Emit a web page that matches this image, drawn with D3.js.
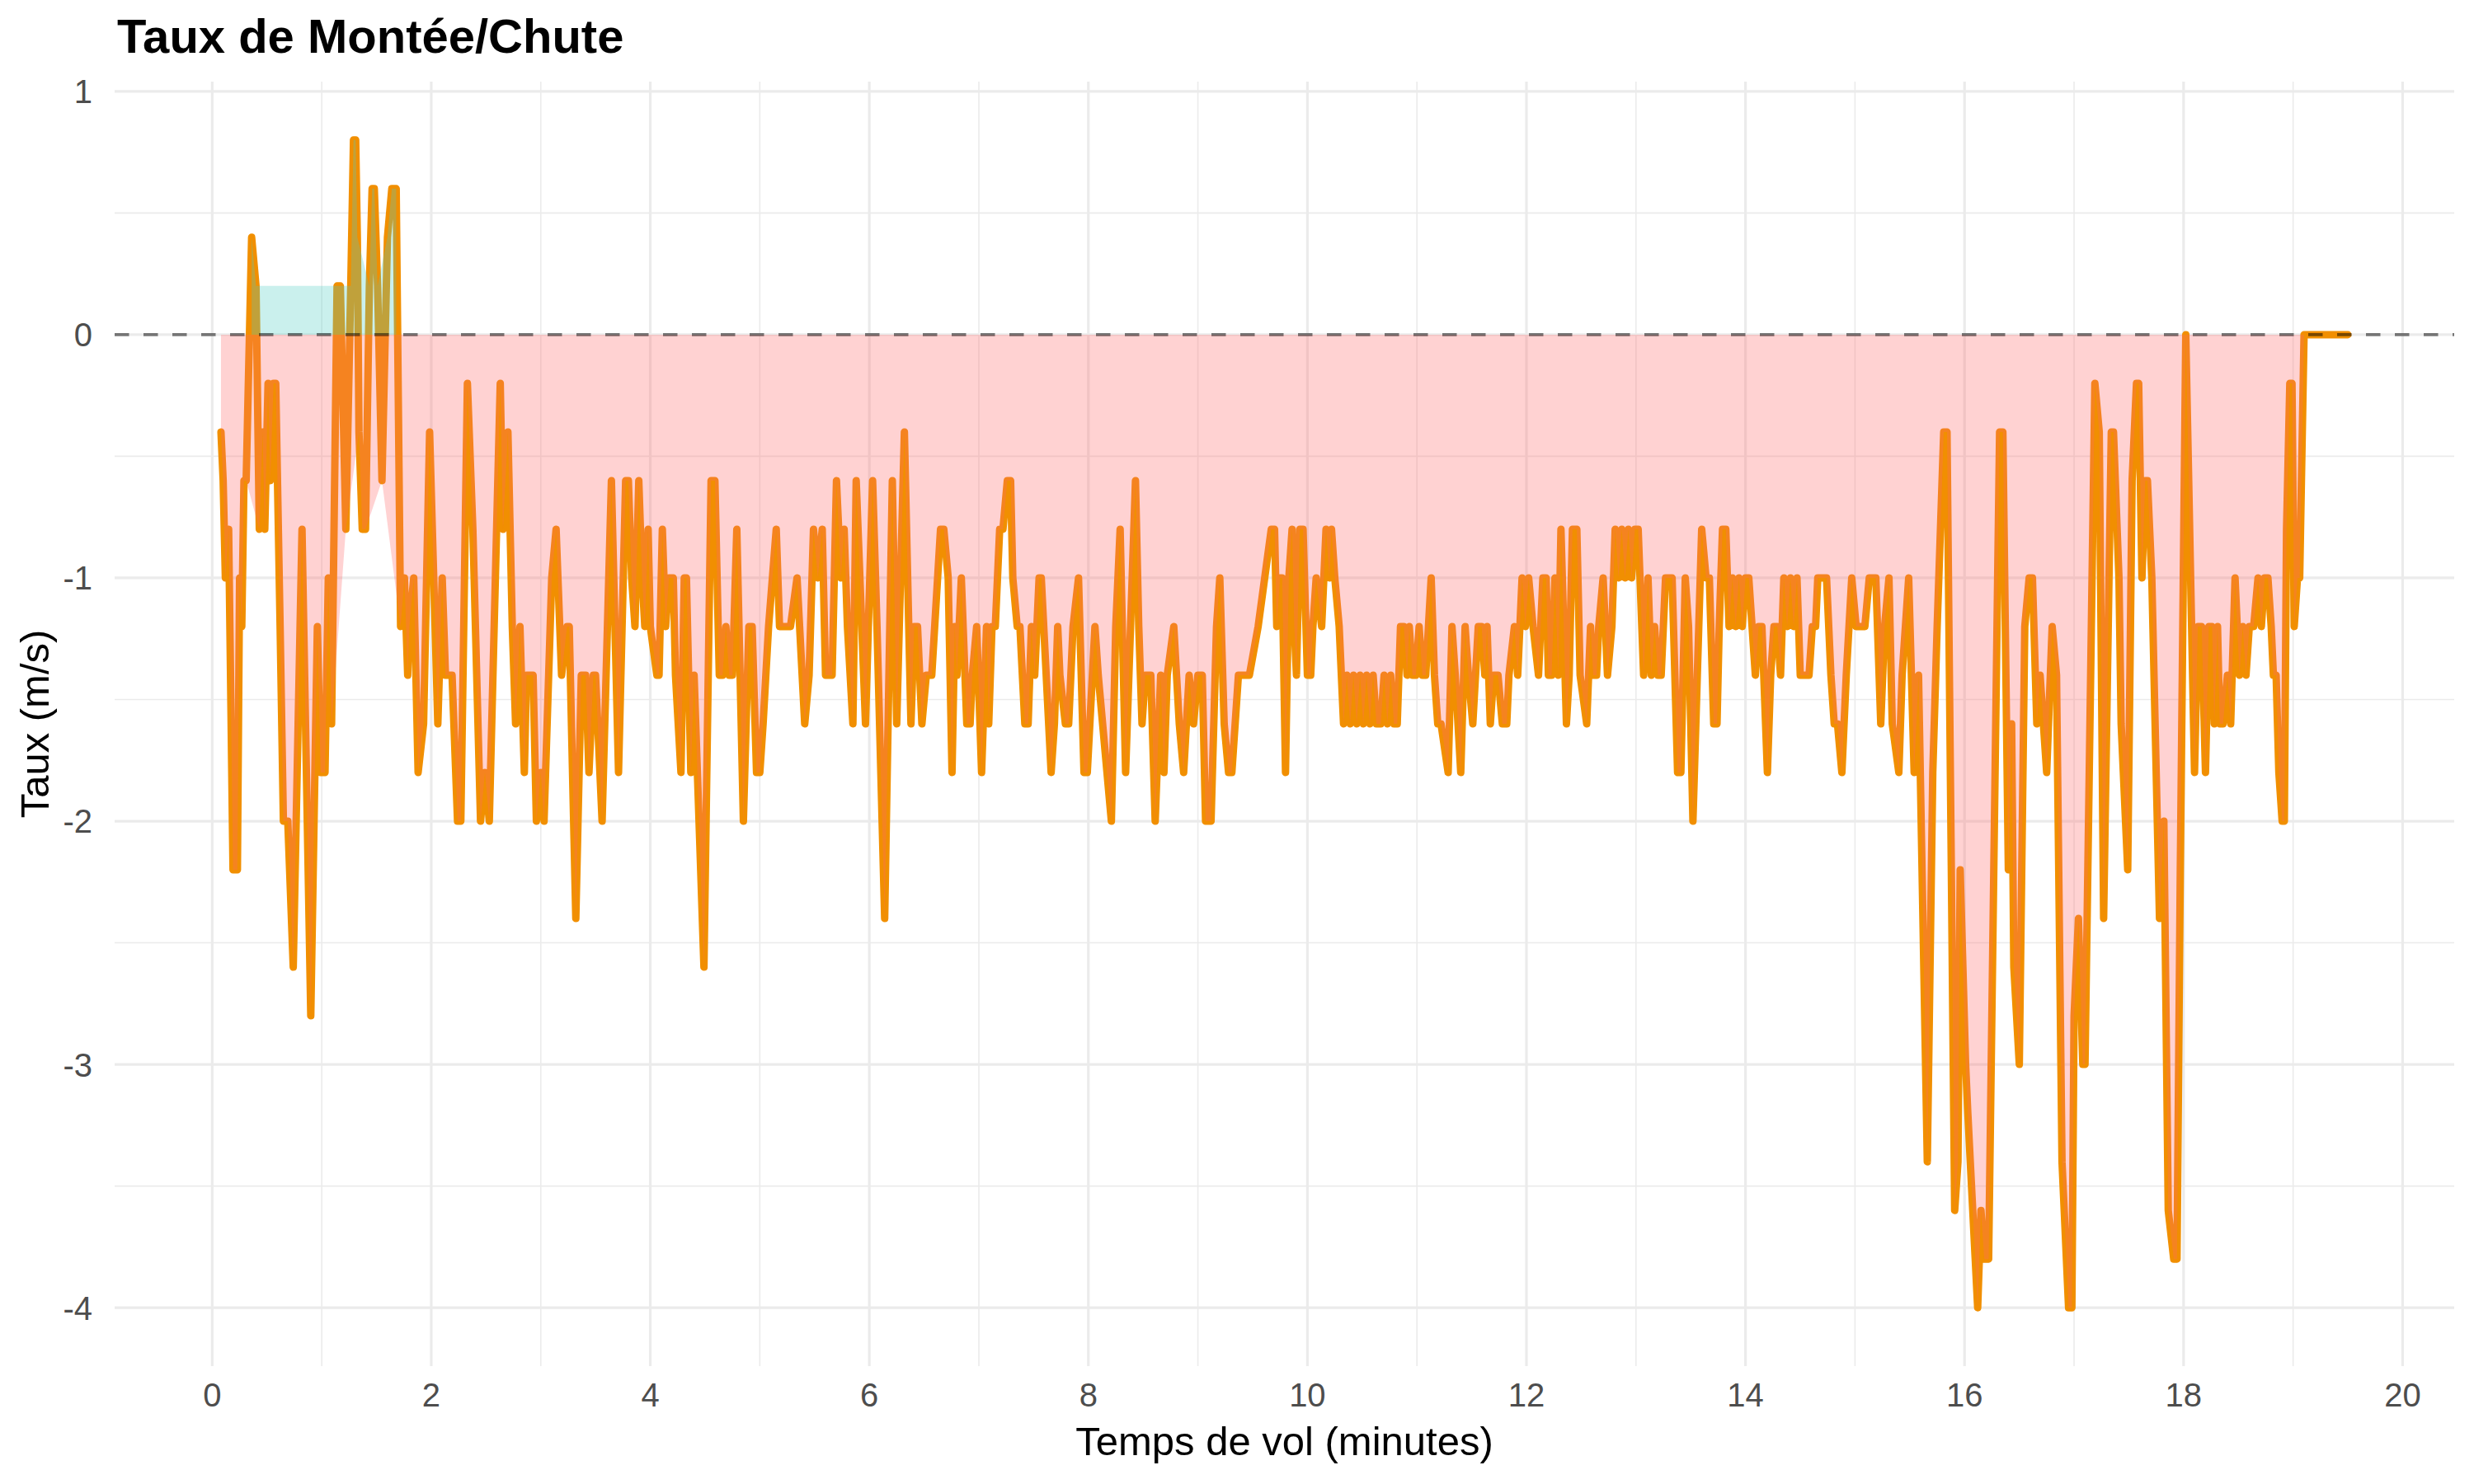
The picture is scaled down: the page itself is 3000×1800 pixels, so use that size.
<!DOCTYPE html>
<html>
<head>
<meta charset="utf-8">
<script src="https://cdn.jsdelivr.net/npm/d3@7"></script>
<style>
  html, body { margin: 0; padding: 0; background: #ffffff; }
  svg { display: block; }
</style>
</head>
<body>
<svg id="chart" width="3000" height="1800"></svg>
<script>
// ---- Data ----
const time = [
  0.08,0.10,0.12,0.15,0.19,0.23,0.25,0.27,0.29,0.31,
  0.36,0.40,0.43,0.46,0.48,0.51,0.53,0.56,0.58,0.62,
  0.65,0.69,0.74,0.82,0.90,0.96,0.99,1.03,1.06,1.09,
  1.14,1.17,1.22,1.265,1.29,1.31,1.325,1.34,1.37,1.40,1.435,1.46,1.48,
  1.51,1.55,1.60,1.64,1.68,1.72,1.755,1.785,1.80,1.84,
  1.88,1.93,1.985,2.06,2.10,2.13,2.19,2.24,2.27,2.33,
  2.38,2.45,2.49,2.53,2.63,2.655,2.70,2.74,2.77,2.81,
  2.85,2.87,2.93,2.96,3.00,3.03,3.10,3.14,3.19,3.24,
  3.26,3.32,3.37,3.41,3.44,3.48,3.50,3.56,3.645,3.71,
  3.775,3.80,3.83,3.86,3.895,3.925,3.95,3.98,4.00,4.06,
  4.08,4.11,4.14,4.17,4.21,4.23,4.28,4.31,4.33,4.37,
  4.40,4.49,4.555,4.59,4.63,4.66,4.69,4.72,4.75,4.79,
  4.85,4.90,4.93,4.97,5.00,5.03,5.08,5.15,5.18,5.23,
  5.28,5.34,5.41,5.45,5.49,5.53,5.57,5.60,5.66,5.70,
  5.74,5.77,5.80,5.85,5.88,5.965,6.03,6.07,6.14,6.21,
  6.25,6.32,6.38,6.41,6.44,6.48,6.52,6.57,6.65,6.68,
  6.72,6.755,6.78,6.80,6.84,6.89,6.92,6.94,6.98,7.025,
  7.07,7.09,7.12,7.15,7.19,7.22,7.26,7.29,7.31,7.35,
  7.375,7.42,7.45,7.48,7.51,7.55,7.57,7.66,7.69,7.72,
  7.74,7.79,7.82,7.86,7.91,7.96,7.99,8.06,8.09,8.13,
  8.21,8.25,8.29,8.34,8.37,8.43,8.46,8.49,8.52,8.57,
  8.61,8.66,8.69,8.72,8.78,8.83,8.87,8.92,8.96,9.00,
  9.04,9.07,9.12,9.17,9.20,9.24,9.28,9.31,9.34,9.37,
  9.42,9.47,9.55,9.61,9.67,9.70,9.72,9.75,9.77,9.80,
  9.83,9.86,9.88,9.90,9.93,9.96,10.00,10.03,10.05,10.08,
  10.13,10.17,10.20,10.22,10.25,10.29,10.33,10.36,10.39,10.42,
  10.45,10.48,10.51,10.54,10.57,10.60,10.63,10.67,10.70,10.73,
  10.76,10.79,10.82,10.85,10.88,10.91,10.93,10.96,10.99,11.02,
  11.05,11.08,11.13,11.16,11.19,11.22,11.285,11.32,11.35,11.40,
  11.44,11.47,11.51,11.56,11.59,11.62,11.64,11.67,11.70,11.74,
  11.78,11.82,11.84,11.89,11.92,11.96,11.99,12.02,12.06,12.11,
  12.15,12.18,12.20,12.23,12.26,12.29,12.315,12.365,12.39,12.42,
  12.46,12.49,12.55,12.585,12.61,12.64,12.66,12.70,12.74,12.78,
  12.81,12.84,12.87,12.90,12.93,12.96,12.99,13.02,13.07,13.11,
  13.14,13.17,13.20,13.23,13.27,13.30,13.33,13.38,13.41,13.45,
  13.48,13.52,13.56,13.60,13.64,13.67,13.71,13.74,13.76,13.79,
  13.82,13.85,13.88,13.91,13.94,13.97,14.00,14.03,14.06,14.09,
  14.12,14.15,14.20,14.23,14.26,14.29,14.32,14.35,14.38,14.41,
  14.44,14.47,14.50,14.55,14.58,14.61,14.64,14.66,14.71,14.74,
  14.78,14.81,14.84,14.88,14.92,14.97,15.01,15.05,15.09,15.13,
  15.16,15.19,15.235,15.27,15.31,15.34,15.40,15.43,15.46,15.49,
  15.54,15.58,15.66,15.71,15.75,15.81,15.84,15.91,15.94,15.96,
  16.01,16.03,16.12,16.15,16.18,16.22,16.32,16.35,16.40,16.43,
  16.45,16.50,16.55,16.59,16.62,16.66,16.69,16.75,16.80,16.84,
  16.89,16.95,16.98,17.00,17.04,17.08,17.10,17.19,17.23,17.27,
  17.34,17.36,17.41,17.43,17.49,17.53,17.57,17.59,17.62,17.65,
  17.67,17.71,17.78,17.82,17.86,17.91,17.94,17.97,18.02,18.10,
  18.13,18.165,18.20,18.23,18.26,18.28,18.31,18.33,18.36,18.40,
  18.43,18.47,18.51,18.54,18.57,18.60,18.64,18.68,18.71,18.74,
  18.77,18.80,18.82,18.845,18.87,18.90,18.92,18.94,18.97,18.99,
  19.01,19.04,19.06,19.10,19.14,19.50
];
const rate = [
  -0.4,-0.6,-1.0,-0.8,-2.2,-2.2,-1.0,-1.2,-0.6,-0.6,
  0.4,0.2,-0.8,-0.4,-0.8,-0.2,-0.6,-0.2,-0.2,-1.2,
  -2.0,-2.0,-2.6,-0.8,-2.8,-1.2,-1.8,-1.8,-1.0,-1.6,
  0.2,0.2,-0.8,0.2,0.8,0.8,0.4,-0.4,-0.8,-0.8,0.2,0.6,0.6,
  0.2,-0.6,0.4,0.6,0.6,-1.2,-1.0,-1.4,-1.2,-1.0,
  -1.8,-1.6,-0.4,-1.6,-1.0,-1.4,-1.4,-2.0,-2.0,-0.2,
  -0.8,-2.0,-1.8,-2.0,-0.2,-0.8,-0.4,-1.2,-1.6,-1.2,
  -1.8,-1.4,-1.4,-2.0,-1.8,-2.0,-1.0,-0.8,-1.4,-1.2,
  -1.2,-2.4,-1.4,-1.4,-1.8,-1.4,-1.4,-2.0,-0.6,-1.8,
  -0.6,-0.6,-1.0,-1.2,-0.6,-1.0,-1.2,-0.8,-1.2,-1.4,
  -1.4,-0.8,-1.2,-1.0,-1.0,-1.4,-1.8,-1.0,-1.0,-1.8,
  -1.4,-2.6,-0.6,-0.6,-1.4,-1.4,-1.2,-1.4,-1.4,-0.8,
  -2.0,-1.2,-1.2,-1.8,-1.8,-1.6,-1.2,-0.8,-1.2,-1.2,
  -1.2,-1.0,-1.6,-1.4,-0.8,-1.0,-0.8,-1.4,-1.4,-0.6,
  -1.0,-0.8,-1.2,-1.6,-0.6,-1.6,-0.6,-1.2,-2.4,-0.6,
  -1.6,-0.4,-1.6,-1.2,-1.2,-1.6,-1.4,-1.4,-0.8,-0.8,
  -1.0,-1.8,-1.2,-1.4,-1.0,-1.6,-1.6,-1.4,-1.2,-1.8,
  -1.2,-1.6,-1.2,-1.2,-0.8,-0.8,-0.6,-0.6,-1.0,-1.2,
  -1.2,-1.6,-1.6,-1.2,-1.4,-1.0,-1.0,-1.8,-1.6,-1.2,
  -1.4,-1.6,-1.6,-1.2,-1.0,-1.8,-1.8,-1.2,-1.4,-1.6,
  -2.0,-1.2,-0.8,-1.8,-1.4,-0.6,-1.2,-1.6,-1.4,-1.4,
  -2.0,-1.4,-1.8,-1.4,-1.2,-1.6,-1.8,-1.4,-1.6,-1.4,
  -1.4,-2.0,-2.0,-1.2,-1.0,-1.6,-1.8,-1.8,-1.6,-1.4,
  -1.4,-1.4,-1.2,-1.0,-0.8,-0.8,-1.2,-1.0,-1.0,-1.8,
  -1.0,-0.8,-1.2,-1.4,-0.8,-0.8,-1.4,-1.4,-1.2,-1.0,
  -1.2,-0.8,-1.0,-0.8,-1.0,-1.2,-1.6,-1.4,-1.6,-1.4,
  -1.6,-1.4,-1.6,-1.4,-1.6,-1.4,-1.6,-1.6,-1.4,-1.6,
  -1.4,-1.6,-1.6,-1.2,-1.2,-1.4,-1.2,-1.4,-1.4,-1.2,
  -1.4,-1.4,-1.0,-1.4,-1.6,-1.6,-1.8,-1.2,-1.4,-1.8,
  -1.2,-1.4,-1.6,-1.2,-1.2,-1.4,-1.2,-1.6,-1.4,-1.4,
  -1.6,-1.6,-1.4,-1.2,-1.4,-1.0,-1.2,-1.0,-1.2,-1.4,
  -1.0,-1.0,-1.4,-1.4,-1.0,-1.4,-0.8,-1.6,-1.4,-0.8,
  -0.8,-1.4,-1.6,-1.2,-1.4,-1.4,-1.2,-1.0,-1.4,-1.2,
  -0.8,-1.0,-0.8,-1.0,-0.8,-1.0,-0.8,-0.8,-1.4,-1.0,
  -1.4,-1.2,-1.4,-1.4,-1.0,-1.0,-1.0,-1.8,-1.8,-1.0,
  -1.2,-2.0,-1.4,-0.8,-1.0,-1.0,-1.6,-1.6,-1.2,-0.8,
  -0.8,-1.2,-1.0,-1.2,-1.0,-1.2,-1.0,-1.0,-1.2,-1.4,
  -1.2,-1.2,-1.8,-1.4,-1.2,-1.2,-1.4,-1.0,-1.2,-1.0,
  -1.2,-1.0,-1.4,-1.4,-1.4,-1.2,-1.2,-1.0,-1.0,-1.0,
  -1.4,-1.6,-1.6,-1.8,-1.4,-1.0,-1.2,-1.2,-1.2,-1.0,
  -1.0,-1.0,-1.6,-1.2,-1.0,-1.6,-1.8,-1.4,-1.2,-1.0,
  -1.8,-1.4,-3.4,-1.8,-1.2,-0.4,-0.4,-3.6,-3.4,-2.2,
  -3.0,-3.2,-4.0,-3.6,-3.8,-3.8,-0.4,-0.4,-2.2,-1.6,
  -2.6,-3.0,-1.2,-1.0,-1.0,-1.6,-1.4,-1.8,-1.2,-1.4,
  -3.4,-4.0,-4.0,-2.8,-2.4,-3.0,-3.0,-0.2,-0.4,-2.4,
  -0.4,-0.4,-1.0,-1.6,-2.2,-0.6,-0.2,-0.2,-1.0,-0.6,
  -0.6,-1.0,-2.4,-2.0,-3.6,-3.8,-3.8,-2.2,0.0,-1.8,
  -1.2,-1.2,-1.8,-1.2,-1.2,-1.6,-1.2,-1.6,-1.6,-1.4,
  -1.6,-1.0,-1.4,-1.2,-1.4,-1.2,-1.2,-1.0,-1.2,-1.0,
  -1.0,-1.2,-1.4,-1.4,-1.8,-2.0,-2.0,-0.8,-0.2,-0.2,
  -1.2,-1.0,-1.0,0.0,0.0,0.0
];
const xTicks = [0, 2, 4, 6, 8, 10, 12, 14, 16, 18, 20];
const yTicks = [1, 0, -1, -2, -3, -4];
const titleText = "Taux de Montée/Chute";
const xTitle = "Temps de vol (minutes)";
const yTitle = "Taux (m/s)";
const referenceLevel = 0;

// ---- Layout / style ----
const FONT = "'Liberation Sans', Arial, Helvetica, sans-serif";
const panel = { left: 139, right: 2976, top: 99, bottom: 1657 };
const lineColor = "#F18F01";
const descentFill = "#FF6B6B";
const climbFill = "#4ECDC4";
const gridColor = "#EBEBEB";

const points = time.map((t, i) => ({ t: t, v: rate[i] }));

const svg = d3.select("#chart");
svg.append("rect").attr("width", 3000).attr("height", 1800).attr("fill", "#ffffff");

const xe = d3.extent(time), xp = (xe[1] - xe[0]) * 0.05;
const ye = d3.extent(rate), yp = (ye[1] - ye[0]) * 0.05;
const x = d3.scaleLinear().domain([xe[0] - xp, xe[1] + xp]).range([panel.left, panel.right]);
const y = d3.scaleLinear().domain([ye[0] - yp, ye[1] + yp]).range([panel.bottom, panel.top]);

// ---- Grid ----
const grid = svg.append("g");
const xd = x.domain(), yd = y.domain();
const xMinor = d3.range(Math.ceil(xd[0]), Math.floor(xd[1]) + 1).filter(v => Math.abs(v % 2) === 1);
const yMinor = d3.range(Math.ceil(yd[0] * 2), Math.floor(yd[1] * 2) + 1).map(v => v / 2).filter(v => !Number.isInteger(v));

grid.selectAll("line.xmin").data(xMinor).enter().append("line")
  .attr("x1", d => x(d)).attr("x2", d => x(d))
  .attr("y1", panel.top).attr("y2", panel.bottom)
  .attr("stroke", gridColor).attr("stroke-width", 1.6);
grid.selectAll("line.ymin").data(yMinor).enter().append("line")
  .attr("y1", d => y(d)).attr("y2", d => y(d))
  .attr("x1", panel.left).attr("x2", panel.right)
  .attr("stroke", gridColor).attr("stroke-width", 1.6);
grid.selectAll("line.xmaj").data(xTicks).enter().append("line")
  .attr("x1", d => x(d)).attr("x2", d => x(d))
  .attr("y1", panel.top).attr("y2", panel.bottom)
  .attr("stroke", gridColor).attr("stroke-width", 3.2);
grid.selectAll("line.ymaj").data(yTicks).enter().append("line")
  .attr("y1", d => y(d)).attr("y2", d => y(d))
  .attr("x1", panel.left).attr("x2", panel.right)
  .attr("stroke", gridColor).attr("stroke-width", 3.2);

// ---- Line ----
const line = d3.line().x(d => x(d.t)).y(d => y(d.v));
svg.append("path").datum(points)
  .attr("d", line)
  .attr("fill", "none")
  .attr("stroke", lineColor)
  .attr("stroke-width", 9)
  .attr("stroke-linejoin", "round")
  .attr("stroke-linecap", "round");

// ---- Areas (drawn over the line, semi-transparent) ----
const area = d3.area().x(d => x(d.t)).y0(y(referenceLevel)).y1(d => y(d.v));
svg.append("path").datum(points.filter(d => d.v <= referenceLevel))
  .attr("d", area).attr("fill", descentFill).attr("fill-opacity", 0.3);
svg.append("path").datum(points.filter(d => d.v > referenceLevel))
  .attr("d", area).attr("fill", climbFill).attr("fill-opacity", 0.3);

// ---- Reference dashed line ----
svg.append("line")
  .attr("x1", panel.left).attr("x2", panel.right)
  .attr("y1", y(referenceLevel)).attr("y2", y(referenceLevel))
  .attr("stroke", "#000000").attr("stroke-opacity", 0.5)
  .attr("stroke-width", 3.6)
  .attr("stroke-dasharray", "17.5,17.5");

// ---- Axis labels ----
svg.selectAll("text.xt").data(xTicks).enter().append("text")
  .attr("x", d => x(d)).attr("y", 1706)
  .attr("text-anchor", "middle")
  .attr("font-family", FONT).attr("font-size", 40).attr("fill", "#4D4D4D")
  .text(d => d);
svg.selectAll("text.yt").data(yTicks).enter().append("text")
  .attr("x", 112).attr("y", d => y(d)).attr("dy", "0.36em")
  .attr("text-anchor", "end")
  .attr("font-family", FONT).attr("font-size", 40).attr("fill", "#4D4D4D")
  .text(d => d);

svg.append("text")
  .attr("x", (panel.left + panel.right) / 2).attr("y", 1765)
  .attr("text-anchor", "middle")
  .attr("font-family", FONT).attr("font-size", 49).attr("fill", "#000000")
  .text(xTitle);
svg.append("text")
  .attr("transform", `translate(59, ${(panel.top + panel.bottom) / 2}) rotate(-90)`)
  .attr("text-anchor", "middle")
  .attr("font-family", FONT).attr("font-size", 49).attr("fill", "#000000")
  .text(yTitle);

svg.append("text")
  .attr("x", panel.left + 3).attr("y", 64)
  .attr("font-family", FONT).attr("font-size", 58).attr("font-weight", "bold").attr("fill", "#000000")
  .text(titleText);
</script>
</body>
</html>
